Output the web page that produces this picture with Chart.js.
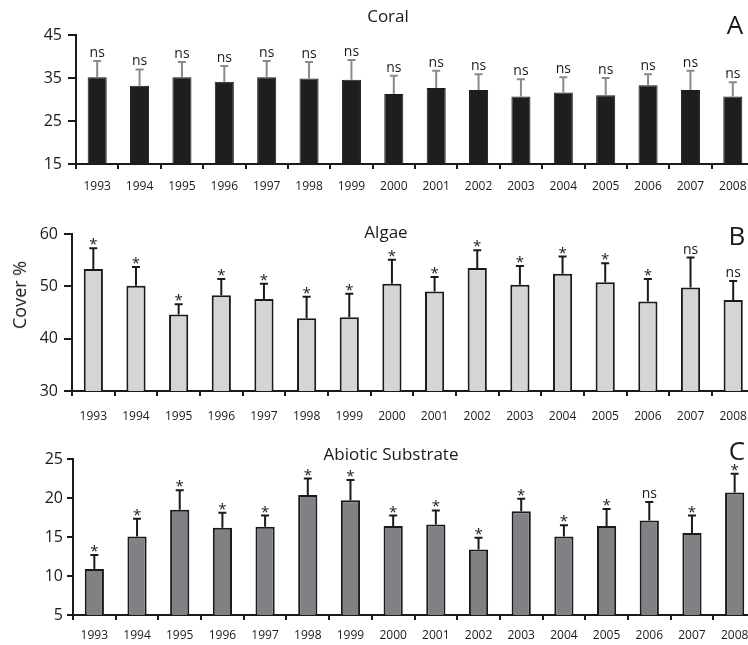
<!DOCTYPE html>
<html lang="en">
<head>
    <meta charset="UTF-8">
    <title>Coral, Algae and Abiotic Substrate cover</title>
    <script src="https://cdn.jsdelivr.net/npm/chart.js"></script>
    <style>
        html, body {
            margin: 0;
            padding: 0;
            background: #ffffff;
            overflow: hidden;
            font-family: "Open Sans", Arial, sans-serif;
            color: #1a1a1a;
        }
        .wrap {
            position: relative;
            width: 748px;
            height: 645px;
        }
        canvas {
            position: absolute;
            left: 0;
        }
        .lbl {
            position: absolute;
            white-space: nowrap;
            line-height: 1;
            z-index: 2;
        }
        .title { font-size: 17px; transform: translate(-50%, -50%); }
        .letter { font-size: 26px; transform: translate(-50%, -50%); }
        .ytitle {
            font-size: 18px;
            transform: translate(-50%, -50%) rotate(-90deg);
        }
    </style>
</head>
<body>
<div class="wrap">
    <canvas id="coralChart" width="760" height="200" style="top:0px"></canvas>
    <canvas id="algaeChart" width="760" height="220" style="top:200px"></canvas>
    <canvas id="abioticChart" width="760" height="225" style="top:420px"></canvas>

    <div class="lbl title" style="left:388px; top:15px;">Coral</div>
    <div class="lbl letter" style="left:735px; top:24px;">A</div>
    <div class="lbl title" style="left:386px; top:231px;">Algae</div>
    <div class="lbl letter" style="left:737px; top:235px;">B</div>
    <div class="lbl title" style="left:391px; top:453px;">Abiotic Substrate</div>
    <div class="lbl letter" style="left:737px; top:450px;">C</div>
    <div class="lbl ytitle" style="left:19px; top:295px;">Cover %</div>
</div>

<script>
    // years on the x axis
    const years = ['1993', '1994', '1995', '1996', '1997', '1998', '1999', '2000',
                   '2001', '2002', '2003', '2004', '2005', '2006', '2007', '2008'];

    // Coral cover (mean, upper error, significance)
    const coralMean = [35.2, 33.2, 35.2, 34.1, 35.2, 34.9, 34.6, 31.3, 32.7, 32.2, 30.7, 31.6, 31.0, 33.3, 32.2, 30.7];
    const coralErr  = [3.75, 3.8, 3.5, 3.7, 3.75, 3.8, 4.6, 4.2, 4.0, 3.7, 4.0, 3.6, 4.0, 2.6, 4.5, 3.3];
    const coralSig  = ['ns', 'ns', 'ns', 'ns', 'ns', 'ns', 'ns', 'ns', 'ns', 'ns', 'ns', 'ns', 'ns', 'ns', 'ns', 'ns'];
    const coralTicks = [15, 25, 35, 45];

    // Algae cover
    const algaeMean = [53.3, 50.1, 44.6, 48.3, 47.6, 43.9, 44.1, 50.5, 49.0, 53.5, 50.3, 52.4, 50.8, 47.1, 49.8, 47.4];
    const algaeErr  = [4.0, 3.6, 2.0, 3.1, 2.9, 4.1, 4.5, 4.6, 2.8, 3.4, 3.6, 3.3, 3.6, 4.3, 5.7, 3.6];
    const algaeSig  = ['*', '*', '*', '*', '*', '*', '*', '*', '*', '*', '*', '*', '*', '*', 'ns', 'ns'];
    const algaeTicks = [30, 40, 50, 60];

    // Abiotic substrate cover
    const abioticMean = [10.9, 15.05, 18.5, 16.2, 16.3, 20.4, 19.7, 16.4, 16.6, 13.4, 18.3, 15.05, 16.4, 17.1, 15.5, 20.7];
    const abioticErr  = [1.8, 2.3, 2.5, 1.9, 1.45, 2.1, 2.6, 1.35, 1.8, 1.5, 1.6, 1.45, 2.2, 2.4, 2.25, 2.4];
    const abioticSig  = ['*', '*', '*', '*', '*', '*', '*', '*', '*', '*', '*', '*', '*', 'ns', '*', '*'];
    const abioticTicks = [5, 10, 15, 20, 25];

    const FONT = '"Open Sans", Arial, sans-serif';

    // draws the upper error bar and the ns / * mark over each bar
    const errorBarPlugin = {
        id: 'errorBars',
        afterDatasetsDraw(chart, args, opts) {
            const ctx = chart.ctx;
            const yScale = chart.scales.y;
            const meta = chart.getDatasetMeta(0);
            const means = chart.data.datasets[0].data;
            ctx.save();
            meta.data.forEach((bar, i) => {
                const yTop = yScale.getPixelForValue(means[i] + opts.err[i]);
                ctx.strokeStyle = opts.color;
                ctx.lineWidth = 2;
                ctx.beginPath();
                ctx.moveTo(bar.x, bar.y);
                ctx.lineTo(bar.x, yTop);
                ctx.moveTo(bar.x - 4, yTop);
                ctx.lineTo(bar.x + 4, yTop);
                ctx.stroke();

                ctx.fillStyle = '#1a1a1a';
                ctx.textAlign = 'center';
                ctx.textBaseline = 'alphabetic';
                if (opts.sig[i] === 'ns') {
                    ctx.font = '14px ' + FONT;
                    ctx.fillText('ns', bar.x, yTop - 4);
                } else {
                    ctx.font = '15px ' + FONT;
                    ctx.fillText('*', bar.x, yTop + 1);
                }
            });
            ctx.restore();
        }
    };

    function makeChart(id, cfg) {
        const ctx = document.getElementById(id).getContext('2d');
        return new Chart(ctx, {
            type: 'bar',
            data: {
                labels: years,
                datasets: [{
                    data: cfg.mean,
                    backgroundColor: cfg.fill,
                    borderColor: '#1a1a1a',
                    borderWidth: cfg.barBorder,
                    barPercentage: 0.45,
                    categoryPercentage: 1.0
                }]
            },
            options: {
                responsive: false,
                animation: false,
                devicePixelRatio: 1,
                layout: {
                    padding: { top: cfg.top, right: cfg.right, left: 0, bottom: 0 }
                },
                plugins: {
                    legend: { display: false },
                    tooltip: { enabled: false },
                    errorBars: { err: cfg.err, sig: cfg.sig, color: cfg.errColor }
                },
                scales: {
                    x: {
                        offset: true,
                        grid: {
                            offset: true,
                            drawOnChartArea: false,
                            drawTicks: true,
                            tickLength: 5,
                            color: '#1a1a1a',
                            lineWidth: 2
                        },
                        border: { display: true, color: '#1a1a1a', width: 2 },
                        ticks: {
                            color: '#1a1a1a',
                            font: { family: FONT, size: 12 },
                            padding: cfg.xPad,
                            maxRotation: 0,
                            autoSkip: false
                        },
                        afterFit(scale) { scale.height = cfg.bottom; }
                    },
                    y: {
                        min: cfg.ticks[0],
                        max: cfg.ticks[cfg.ticks.length - 1],
                        afterBuildTicks(scale) {
                            scale.ticks = cfg.ticks.map(v => ({ value: v }));
                        },
                        grid: {
                            drawOnChartArea: false,
                            drawTicks: true,
                            tickLength: cfg.yTick,
                            color: '#1a1a1a',
                            lineWidth: 2
                        },
                        border: { display: true, color: '#1a1a1a', width: 2 },
                        ticks: {
                            color: '#1a1a1a',
                            font: { family: FONT, size: 16 },
                            padding: cfg.yPad
                        },
                        afterFit(scale) { scale.width = cfg.left; }
                    }
                }
            },
            plugins: [errorBarPlugin]
        });
    }

    makeChart('coralChart', {
        mean: coralMean, err: coralErr, sig: coralSig, ticks: coralTicks,
        fill: '#1e1e1e', barBorder: 1, errColor: '#8a8a8a',
        top: 35, right: 6, left: 76, bottom: 36, xPad: 10, yTick: 8, yPad: 6
    });

    makeChart('algaeChart', {
        mean: algaeMean, err: algaeErr, sig: algaeSig, ticks: algaeTicks,
        fill: '#d4d5d6', barBorder: 2, errColor: '#1a1a1a',
        top: 34, right: 3, left: 72, bottom: 29, xPad: 13, yTick: 8, yPad: 6
    });

    makeChart('abioticChart', {
        mean: abioticMean, err: abioticErr, sig: abioticSig, ticks: abioticTicks,
        fill: '#808184', barBorder: 2, errColor: '#1a1a1a',
        top: 39, right: 4, left: 73, bottom: 30, xPad: 8, yTick: 6, yPad: 4
    });
</script>
</body>
</html>
